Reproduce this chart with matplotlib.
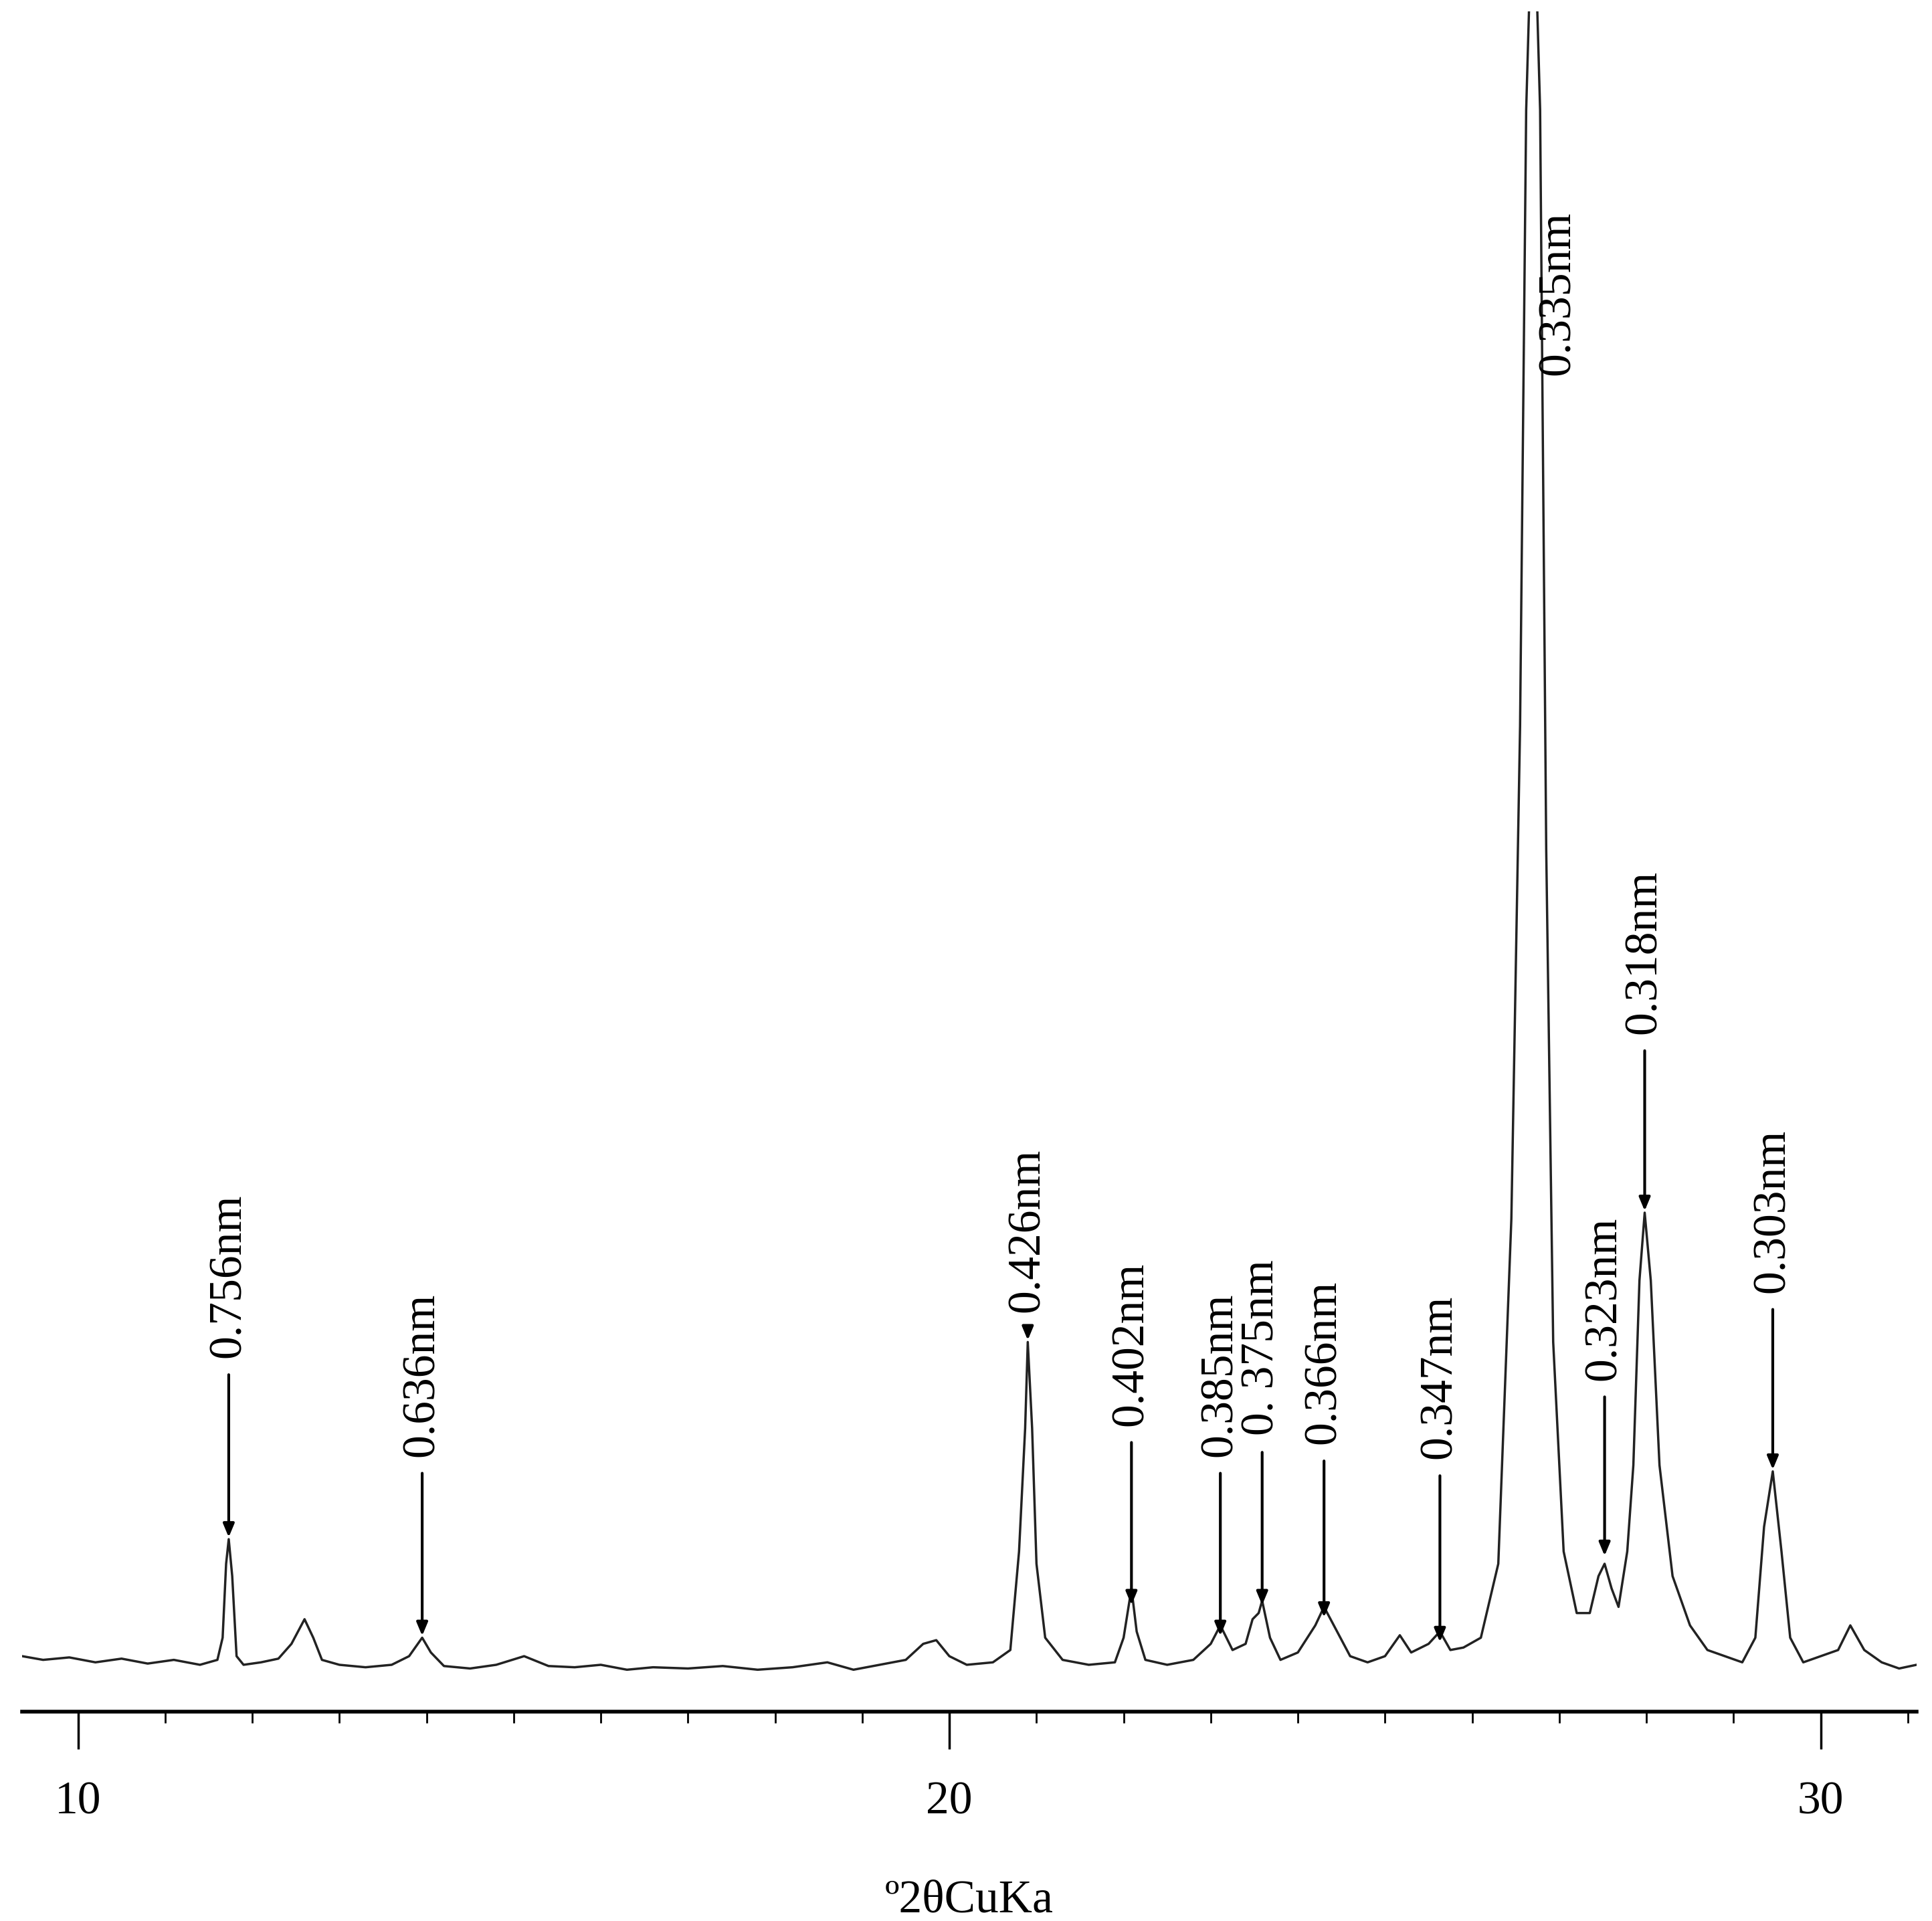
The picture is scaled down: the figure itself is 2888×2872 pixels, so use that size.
import matplotlib.pyplot as plt
from matplotlib.ticker import MultipleLocator

# diffraction trace (2theta, intensity in arbitrary units)
two_theta = [9.36, 9.6, 9.9, 10.2, 10.5, 10.8, 11.1, 11.4, 11.6, 11.66, 11.70, 11.73, 11.77, 11.82, 11.9,
             12.1, 12.3, 12.45, 12.6, 12.7, 12.8, 13.0, 13.3, 13.6, 13.8, 13.95, 14.05, 14.2, 14.5, 14.8,
             15.12, 15.4, 15.7, 16.0, 16.3, 16.6, 17.0, 17.4, 17.8, 18.2, 18.6, 18.9, 19.2, 19.5, 19.7,
             19.85, 20.0, 20.2, 20.5, 20.7, 20.8, 20.87, 20.9, 20.95, 21.0, 21.1, 21.3, 21.6, 21.9, 22.0,
             22.09, 22.15, 22.25, 22.5, 22.8, 23.0, 23.11, 23.25, 23.4, 23.48, 23.55, 23.59, 23.68, 23.8,
             24.0, 24.2, 24.3, 24.45, 24.6, 24.8, 25.0, 25.17, 25.3, 25.5, 25.63, 25.75, 25.9, 26.1, 26.3,
             26.45, 26.55, 26.62, 26.7, 26.78, 26.85, 26.93, 27.05, 27.2, 27.35, 27.45, 27.52, 27.6, 27.68,
             27.78, 27.85, 27.92, 27.98, 28.05, 28.15, 28.3, 28.5, 28.7, 28.9, 29.1, 29.25, 29.35, 29.45,
             29.55, 29.65, 29.8, 30.0, 30.2, 30.34, 30.5, 30.7, 30.9, 31.1]
intensity = [45, 42, 44, 40, 43, 39, 42, 38, 42, 60, 120, 140, 110, 45, 38,
             40, 43, 55, 75, 60, 42, 38, 36, 38, 45, 60, 48, 37, 35, 38,
             45, 37, 36, 38, 34, 36, 35, 37, 34, 36, 40, 34, 38, 42, 55,
             58, 45, 38, 40, 50, 130, 230, 300, 230, 120, 60, 42, 38, 40, 60,
             100, 65, 42, 38, 42, 55, 70, 50, 55, 75, 80, 90, 60, 42,
             48, 70, 85, 65, 45, 40, 45, 62, 48, 55, 65, 50, 52, 60, 120,
             400, 800, 1300, 1500, 1300, 700, 300, 130, 80, 80, 110, 120, 100, 85,
             130, 200, 350, 405, 350, 200, 110, 70, 50, 45, 40, 60, 150, 195,
             130, 60, 40, 45, 50, 70, 50, 40, 35, 38]

# annotated peaks
peak_labels = ['0.756nm', '0.636nm', '0.426nm', '0.402nm', '0.385nm', '0. 375nm',
               '0.366nm', '0.347nm', '0.323nm', '0.318nm', '0.303nm']
peak_pos = [11.73, 13.95, 20.90, 22.09, 23.11, 23.59, 24.30, 25.63, 27.52, 27.98, 29.45]
arrow_tip = [140, 60, 300, 85, 60, 85, 75, 55, 125, 405, 195]
arrow_top = [275, 195, 312, 220, 195, 212, 205, 193, 257, 538, 328]

fig = plt.figure(figsize=(28.88, 28.72), dpi=100)
ax = fig.add_axes([0.0115, 0.109, 0.9805, 0.885])
ax.plot(two_theta, intensity, color='#222222', lw=2.5)

for lab, x, tip, top in zip(peak_labels, peak_pos, arrow_tip, arrow_top):
    ax.annotate('', xy=(x, tip), xytext=(x, top),
                arrowprops=dict(arrowstyle='-|>,head_length=1.2,head_width=0.5', color='black', lw=3))
    ax.text(x, top + 12, lab, rotation=90, ha='center', va='bottom',
            family='Liberation Serif', fontsize=50)

# the big quartz peak runs off the top, label sits to its right
ax.text(26.99, 1085, '0.335nm', rotation=90, ha='center', va='bottom',
        family='Liberation Serif', fontsize=50)

ax.set_xlim(9.36, 31.1)
ax.set_ylim(0, 1380)
for s in ['top', 'left', 'right']:
    ax.spines[s].set_visible(False)
ax.spines['bottom'].set_linewidth(4)
ax.set_yticks([])
ax.xaxis.set_major_locator(MultipleLocator(10))
ax.xaxis.set_minor_locator(MultipleLocator(1))
ax.tick_params(axis='x', which='major', length=40, width=2.5, labelsize=50, pad=35)
ax.tick_params(axis='x', which='minor', length=12, width=2)
for t in ax.get_xticklabels():
    t.set_family('Liberation Serif')
ax.set_xlabel('º2θCuKa', family='Liberation Serif', fontsize=50, labelpad=60)

fig.savefig('out.png')
